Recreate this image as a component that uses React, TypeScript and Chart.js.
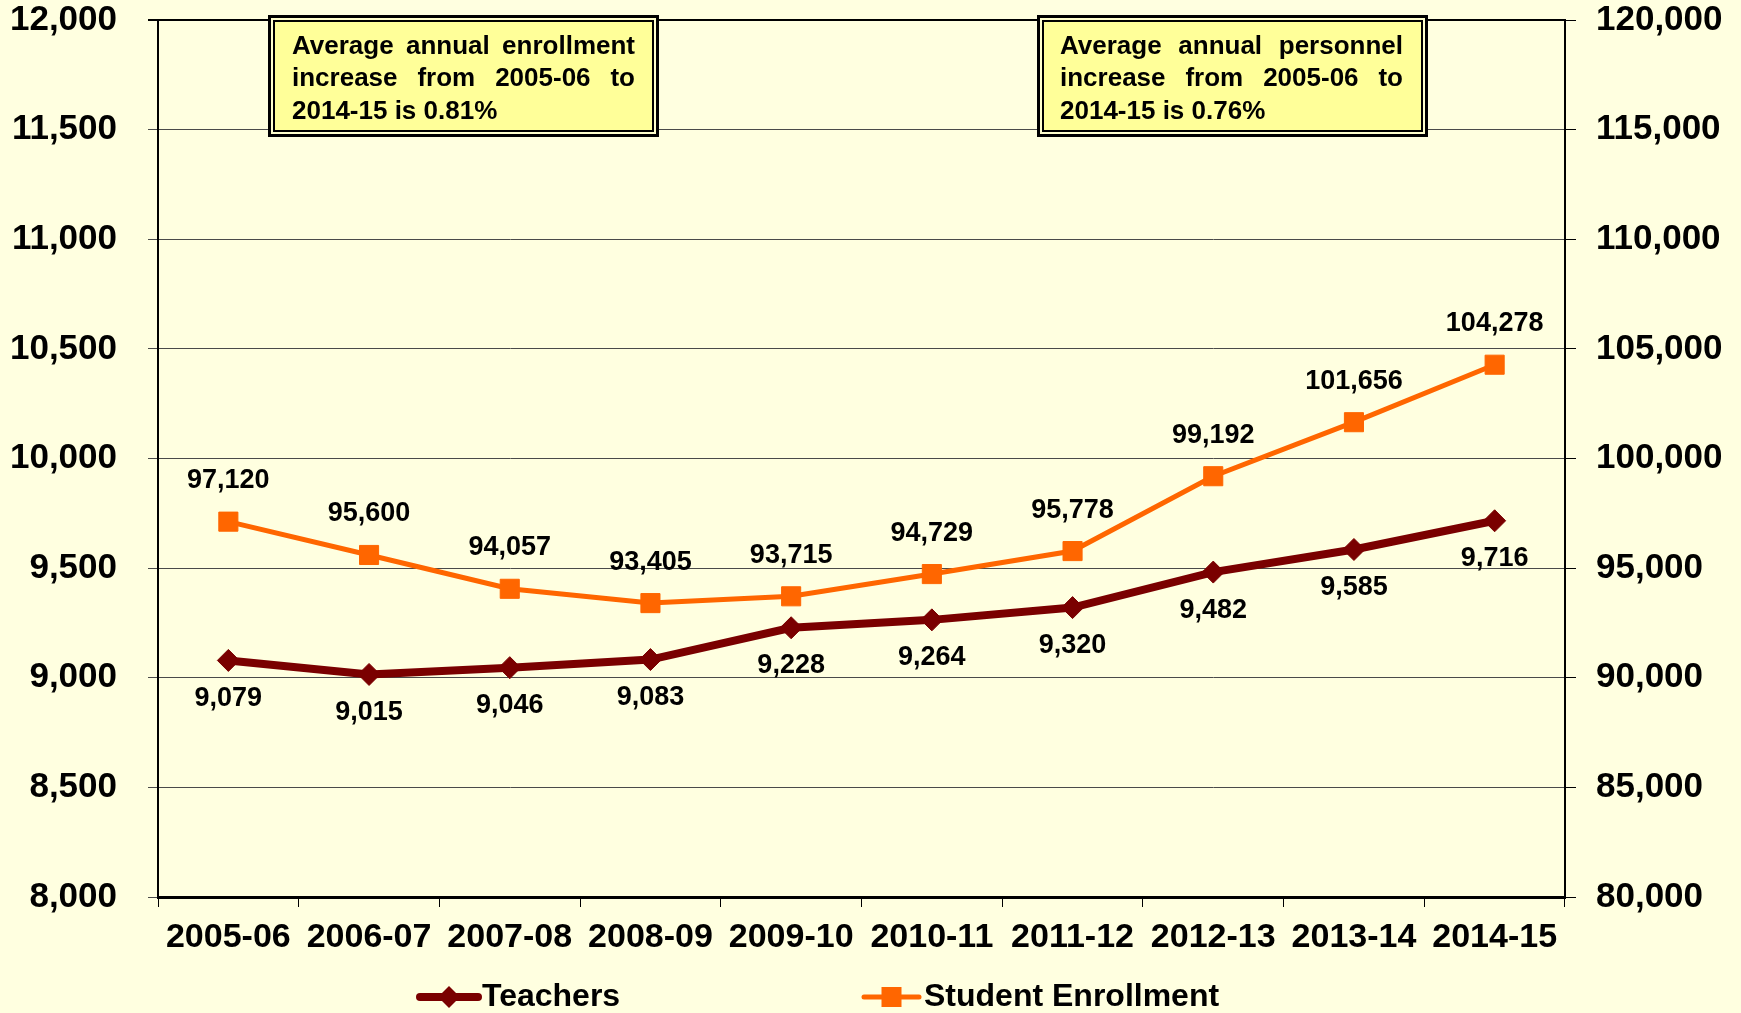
import React, { useEffect, useRef } from 'react';
import { Chart, registerables } from 'chart.js';

Chart.register(...registerables);

const categories = ['2005-06', '2006-07', '2007-08', '2008-09', '2009-10', '2010-11', '2011-12', '2012-13', '2013-14', '2014-15'];
const teachers = [9079, 9015, 9046, 9083, 9228, 9264, 9320, 9482, 9585, 9716];
const enrollment = [97120, 95600, 94057, 93405, 93715, 94729, 95778, 99192, 101656, 104278];
const leftAxisRange = [8000, 12000, 500];
const rightAxisRange = [80000, 120000, 5000];
const seriesNames = ['Teachers', 'Student Enrollment'];
const noteEnrollment = ['Average annual enrollment', 'increase from 2005-06 to', '2014-15 is 0.81%'];
const notePersonnel = ['Average annual personnel', 'increase from 2005-06 to', '2014-15 is 0.76%'];

const FONT = '"Liberation Sans", Arial, Helvetica, sans-serif';
const BG = '#FFFFE0';
const MAROON = '#7A0000';
const ORANGE = '#FF6600';

function fmt(v: number) {
  return v.toLocaleString('en-US');
}

function drawNote(ctx: CanvasRenderingContext2D, x: number, y: number, w: number, h: number, lines: string[], tx: number, tr: number) {
  ctx.save();
  ctx.fillStyle = '#FFFFCC';
  ctx.fillRect(x, y, w, h);
  ctx.strokeStyle = '#000';
  ctx.lineWidth = 3;
  ctx.strokeRect(x + 1.5, y + 1.5, w - 3, h - 3);
  ctx.fillStyle = '#FFFF99';
  ctx.fillRect(x + 5, y + 5, w - 10, h - 10);
  ctx.lineWidth = 2;
  ctx.strokeRect(x + 6, y + 6, w - 12, h - 12);
  ctx.font = 'bold 26px ' + FONT;
  ctx.fillStyle = '#000';
  ctx.textBaseline = 'alphabetic';
  ctx.textAlign = 'left';
  lines.forEach((line, i) => {
    const by = y + 38.5 + i * 32.5;
    if (i < lines.length - 1) {
      const words = line.split(' ');
      const widths = words.map((wd) => ctx.measureText(wd).width);
      const total = widths.reduce((a, b) => a + b, 0);
      const gap = (tr - tx - total) / (words.length - 1);
      let cx = tx;
      words.forEach((wd, k) => {
        ctx.fillText(wd, cx, by);
        cx += widths[k] + gap;
      });
    } else {
      ctx.fillText(line, tx, by);
    }
  });
  ctx.restore();
}

const bgPlugin = {
  id: 'bgFill',
  beforeDraw(chart: any) {
    const ctx = chart.ctx;
    ctx.save();
    ctx.fillStyle = BG;
    ctx.fillRect(0, 0, chart.width, chart.height);
    ctx.restore();
  },
};

const labelPlugin = {
  id: 'pointLabels',
  afterDatasetsDraw(chart: any) {
    const ctx = chart.ctx;
    ctx.save();
    ctx.font = 'bold 27px ' + FONT;
    ctx.fillStyle = '#000';
    ctx.textAlign = 'center';
    ctx.textBaseline = 'middle';
    chart.data.datasets.forEach((ds: any, di: number) => {
      const meta = chart.getDatasetMeta(di);
      meta.data.forEach((pt: any, i: number) => {
        const off = ds.labelAbove ? -41 : 38;
        ctx.fillText(fmt(ds.data[i]), pt.x, pt.y + off);
      });
    });
    ctx.restore();
  },
};

const notesPlugin = {
  id: 'notes',
  afterDraw(chart: any) {
    const ctx = chart.ctx;
    drawNote(ctx, 268, 15, 391, 122, noteEnrollment, 292, 635);
    drawNote(ctx, 1037, 15, 391, 122, notePersonnel, 1060, 1403);
  },
};

const legendPlugin = {
  id: 'customLegend',
  afterDraw(chart: any) {
    const ctx = chart.ctx;
    const y = 997;
    const items = [
      { x0: 420, x1: 478, tx: 482 },
      { x0: 864, x1: 919, tx: 924 },
    ];
    ctx.save();
    chart.data.datasets.forEach((ds: any, di: number) => {
      const it = items[di];
      ctx.strokeStyle = ds.borderColor;
      ctx.lineWidth = ds.borderWidth;
      ctx.lineCap = 'round';
      ctx.beginPath();
      ctx.moveTo(it.x0, y);
      ctx.lineTo(it.x1, y);
      ctx.stroke();
      const cx = (it.x0 + it.x1) / 2;
      ctx.fillStyle = ds.pointBackgroundColor;
      if (ds.pointStyle === 'rectRot') {
        const r = 11;
        ctx.beginPath();
        ctx.moveTo(cx - r, y);
        ctx.lineTo(cx, y - r);
        ctx.lineTo(cx + r, y);
        ctx.lineTo(cx, y + r);
        ctx.closePath();
        ctx.fill();
      } else {
        ctx.fillRect(cx - 10, y - 10, 20, 20);
      }
      ctx.fillStyle = '#000';
      ctx.font = 'bold 32px ' + FONT;
      ctx.textAlign = 'left';
      ctx.textBaseline = 'middle';
      ctx.fillText(ds.label, it.tx, y);
    });
    ctx.restore();
  },
};

export default function App() {
  const ref = useRef<HTMLCanvasElement>(null);

  useEffect(() => {
    document.body.style.margin = '0';
    document.body.style.background = BG;
    const canvas = ref.current!;
    const chart = new Chart(canvas, {
      type: 'line',
      data: {
        labels: categories,
        datasets: [
          {
            label: seriesNames[0],
            data: teachers,
            yAxisID: 'y',
            borderColor: MAROON,
            backgroundColor: MAROON,
            pointBackgroundColor: MAROON,
            pointBorderColor: MAROON,
            borderWidth: 8,
            pointStyle: 'rectRot',
            pointRadius: 11,
            pointBorderWidth: 1,
            tension: 0,
            labelAbove: false,
          } as any,
          {
            label: seriesNames[1],
            data: enrollment,
            yAxisID: 'y1',
            borderColor: ORANGE,
            backgroundColor: ORANGE,
            pointBackgroundColor: ORANGE,
            pointBorderColor: ORANGE,
            borderWidth: 5,
            pointStyle: 'rect',
            pointRadius: 13.5,
            pointBorderWidth: 1,
            tension: 0,
            labelAbove: true,
          } as any,
        ],
      },
      options: {
        responsive: false,
        animation: false,
        devicePixelRatio: 1,
        layout: { padding: { top: 20, left: 0, right: 0, bottom: 0 } },
        plugins: {
          legend: { display: false },
          tooltip: { enabled: false },
        },
        scales: {
          x: {
            type: 'category',
            offset: true,
            afterFit: (s: any) => { s.height = 116; s.paddingLeft = 0; s.paddingRight = 0; },
            grid: {
              offset: true,
              drawOnChartArea: false,
              drawTicks: true,
              tickLength: 10,
              color: '#000',
              lineWidth: 1,
            },
            border: { color: '#000', width: 3 },
            ticks: {
              color: '#000',
              font: { family: FONT, size: 34, weight: 'bold' },
              maxRotation: 0,
              autoSkip: false,
              padding: 10,
            },
          },
          y: {
            position: 'left',
            min: leftAxisRange[0],
            max: leftAxisRange[1],
            afterFit: (s: any) => { s.width = 158; s.paddingTop = 0; s.paddingBottom = 0; },
            grid: {
              color: (c: any) => (c.tick && c.tick.value === leftAxisRange[1] ? '#000' : '#4a4a4a'),
              lineWidth: (c: any) => (c.tick && c.tick.value === leftAxisRange[1] ? 2 : 1),
              tickLength: 10,
              drawTicks: true,
            },
            border: { color: '#000', width: 2 },
            ticks: {
              stepSize: leftAxisRange[2],
              color: '#000',
              font: { family: FONT, size: 35, weight: 'bold' },
              padding: 31,
              callback: (v: any) => fmt(Number(v)),
            },
          },
          y1: {
            position: 'right',
            min: rightAxisRange[0],
            max: rightAxisRange[1],
            afterFit: (s: any) => { s.width = 176; s.paddingTop = 0; s.paddingBottom = 0; },
            grid: {
              drawOnChartArea: false,
              color: '#000',
              tickLength: 11,
              drawTicks: true,
            },
            border: { color: '#000', width: 2 },
            ticks: {
              stepSize: rightAxisRange[2],
              color: '#000',
              font: { family: FONT, size: 35, weight: 'bold' },
              padding: 20,
              callback: (v: any) => fmt(Number(v)),
            },
          },
        },
      } as any,
      plugins: [bgPlugin, labelPlugin, notesPlugin, legendPlugin],
    });
    return () => chart.destroy();
  }, []);

  return (
    <div style={{ position: 'absolute', left: 0, top: 0, width: 1741, height: 1013 }}>
      <canvas ref={ref} width={1741} height={1013} style={{ width: 1741, height: 1013, display: 'block' }} />
    </div>
  );
}
